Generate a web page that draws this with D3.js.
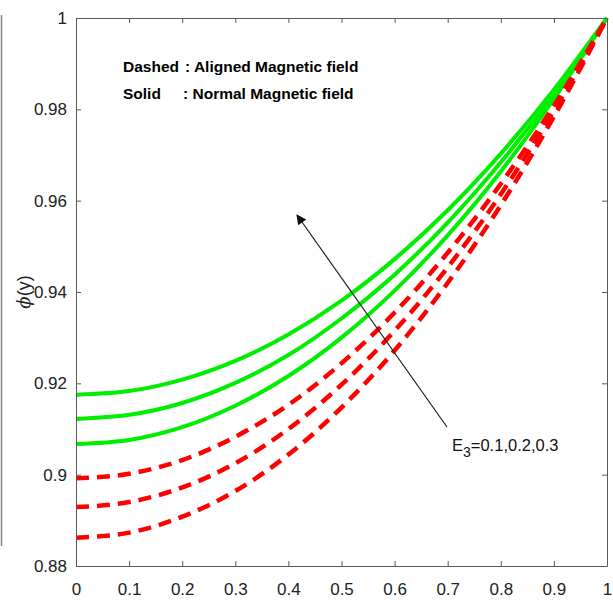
<!DOCTYPE html>
<html>
<head>
<meta charset="utf-8">
<script src="https://cdn.jsdelivr.net/npm/d3@7"></script>
<style>
  html, body { margin: 0; padding: 0; background: #fff; }
  svg { display: block; font-family: "Liberation Sans", Arial, sans-serif; }
</style>
</head>
<body>
<svg id="chart" width="613" height="600"></svg>
<script>
// ---- data ----
const yGrid = [0, 0.1, 0.2, 0.3, 0.4, 0.5, 0.6, 0.7, 0.8, 0.9, 1];
// Solid: Normal magnetic field, E3 = 0.1, 0.2, 0.3
const normalE1 = [0.9067, 0.9076, 0.9104, 0.9151, 0.9216, 0.9300, 0.9403, 0.9524, 0.9664, 0.9823, 1];
const normalE2 = [0.9122, 0.9131, 0.9157, 0.9201, 0.9262, 0.9342, 0.9438, 0.9552, 0.9684, 0.9833, 1];
const normalE3 = [0.9175, 0.9183, 0.9208, 0.9249, 0.9307, 0.9381, 0.9472, 0.9579, 0.9703, 0.9843, 1];
// Dashed: Aligned magnetic field, E3 = 0.1, 0.2, 0.3
const alignedE1 = [0.8862, 0.8873, 0.8908, 0.8964, 0.9044, 0.9147, 0.9272, 0.9420, 0.9590, 0.9784, 1];
const alignedE2 = [0.8929, 0.8940, 0.8972, 0.9025, 0.9100, 0.9197, 0.9315, 0.9454, 0.9614, 0.9797, 1];
const alignedE3 = [0.8992, 0.9002, 0.9032, 0.9083, 0.9153, 0.9244, 0.9355, 0.9486, 0.9637, 0.9808, 1];
const xTicks = [0, 0.1, 0.2, 0.3, 0.4, 0.5, 0.6, 0.7, 0.8, 0.9, 1];
const xTickLabels = ["0", "0.1", "0.2", "0.3", "0.4", "0.5", "0.6", "0.7", "0.8", "0.9", "1"];
const yTicks = [0.88, 0.9, 0.92, 0.94, 0.96, 0.98, 1];
const yTickLabels = ["0.88", "0.9", "0.92", "0.94", "0.96", "0.98", "1"];
const legendLines = [["Dashed", ": Aligned Magnetic field"], ["Solid", ": Normal Magnetic field"]];
const annotation = "E3=0.1,0.2,0.3";

// ---- layout ----
const L = 76, R = 607, T = 18, B = 566;
const svg = d3.select("#chart");
const x = d3.scaleLinear().domain([0, 1]).range([L, R]);
const y = d3.scaleLinear().domain([0.88, 1]).range([B, T]);
const axisColor = "#5a5a5a";

// artifact of neighbouring panel at left edge
svg.append("line").attr("x1", 1.5).attr("x2", 1.5).attr("y1", 15).attr("y2", 546)
  .attr("stroke", "#888").attr("stroke-width", 1.5);

// curves
const line = d3.line().x((d, i) => x(yGrid[i])).y(d => y(d)).curve(d3.curveMonotoneX);
const plot = svg.append("g");
[normalE1, normalE2, normalE3].forEach(s => {
  plot.append("path").attr("d", line(s)).attr("fill", "none")
    .attr("stroke", "#00ee00").attr("stroke-width", 4);
});
[alignedE1, alignedE2, alignedE3].forEach(s => {
  plot.append("path").attr("d", line(s)).attr("fill", "none")
    .attr("stroke", "#ff0000").attr("stroke-width", 4.5)
    .attr("stroke-dasharray", "13,8");
});

// axes (box with inward ticks)
const tickLen = 5;
const fmtX = (d, i) => xTickLabels[i];
const fmtY = (d, i) => yTickLabels[i];
function styleAxis(g) {
  g.selectAll(".domain").attr("stroke", axisColor);
  g.selectAll(".tick line").attr("stroke", axisColor);
  g.selectAll("text").attr("font-size", 17).attr("fill", "#222")
    .attr("font-family", "'Liberation Sans', Arial, sans-serif");
}
svg.append("g").attr("transform", `translate(0,${B})`)
  .call(d3.axisBottom(x).tickValues(xTicks).tickFormat(fmtX).tickSizeInner(-tickLen).tickSizeOuter(0).tickPadding(17))
  .call(styleAxis);
svg.append("g").attr("transform", `translate(0,${T})`)
  .call(d3.axisTop(x).tickValues(xTicks).tickFormat("").tickSizeInner(-tickLen).tickSizeOuter(0))
  .call(styleAxis);
svg.append("g").attr("transform", `translate(${L},0)`)
  .call(d3.axisLeft(y).tickValues(yTicks).tickFormat(fmtY).tickSizeInner(-tickLen).tickSizeOuter(0).tickPadding(9))
  .call(styleAxis);
svg.append("g").attr("transform", `translate(${R},0)`)
  .call(d3.axisRight(y).tickValues(yTicks).tickFormat("").tickSizeInner(-tickLen).tickSizeOuter(0))
  .call(styleAxis);

// y label
const yl = svg.append("text").attr("transform", "translate(30,292) rotate(-90)")
  .attr("text-anchor", "middle").attr("font-size", 18).attr("fill", "#222");
yl.append("tspan").attr("font-style", "italic").attr("font-family", "'DejaVu Serif', serif").text("ϕ");
yl.append("tspan").text("(y)");

// legend text
const lg = svg.append("g").attr("font-weight", "bold").attr("font-size", 15.5).attr("fill", "#000");
legendLines.forEach((pair, i) => {
  const by = 72 + i * 27;
  lg.append("text").attr("x", 123).attr("y", by).text(pair[0]);
  lg.append("text").attr("x", i === 0 ? 185 : 183).attr("y", by).text(pair[1]);
});

// arrow annotation
const defs = svg.append("defs");
defs.append("marker").attr("id", "ah").attr("viewBox", "0 0 10 10")
  .attr("refX", 9).attr("refY", 5).attr("markerWidth", 13).attr("markerHeight", 10)
  .attr("markerUnits", "userSpaceOnUse").attr("orient", "auto")
  .append("path").attr("d", "M0,0 L10,5 L0,10 Z").attr("fill", "#111");
svg.append("line")
  .attr("x1", 447).attr("y1", 427).attr("x2", 297).attr("y2", 215)
  .attr("stroke", "#222").attr("stroke-width", 1.2).attr("marker-end", "url(#ah)");

const at = svg.append("text").attr("x", 452).attr("y", 451).attr("font-size", 16.5).attr("fill", "#111");
at.append("tspan").text(annotation.slice(0, 1));
at.append("tspan").attr("dy", 6).attr("font-size", 14).text(annotation.slice(1, 2));
at.append("tspan").attr("dy", -6).text(annotation.slice(2));
</script>
</body>
</html>
